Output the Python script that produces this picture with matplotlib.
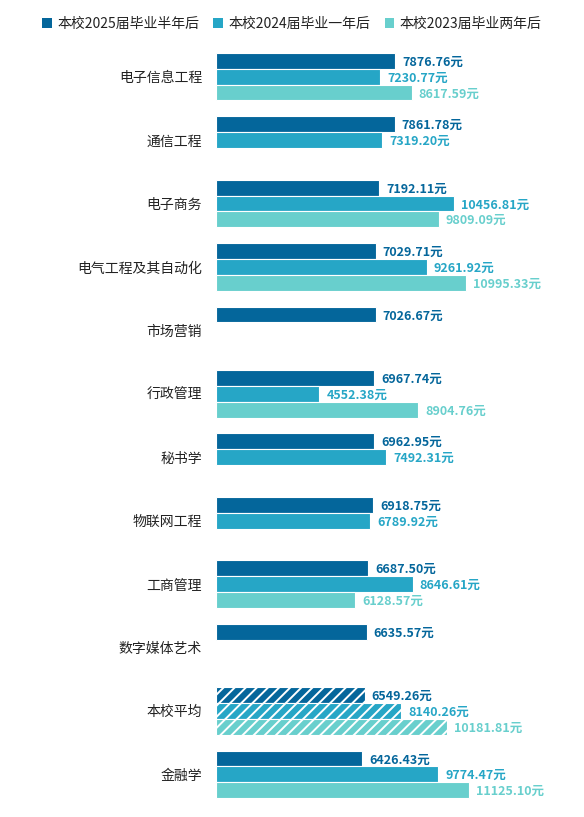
import numpy as np
import matplotlib
matplotlib.use('Agg')
import matplotlib.pyplot as plt
from matplotlib.patches import Patch

plt.rcParams['font.family'] = ['Noto Sans CJK SC', 'DejaVu Sans']
plt.rcParams['hatch.linewidth'] = 1.4

categories = ['电子信息工程', '通信工程', '电子商务', '电气工程及其自动化', '市场营销',
              '行政管理', '秘书学', '物联网工程', '工商管理', '数字媒体艺术',
              '本校平均', '金融学']
series_names = ['本校2025届毕业半年后', '本校2024届毕业一年后', '本校2023届毕业两年后']
salary_2025 = [7876.76, 7861.78, 7192.11, 7029.71, 7026.67, 6967.74, 6962.95,
               6918.75, 6687.50, 6635.57, 6549.26, 6426.43]
salary_2024 = [7230.77, 7319.20, 10456.81, 9261.92, None, 4552.38, 7492.31,
               6789.92, 8646.61, None, 8140.26, 9774.47]
salary_2023 = [8617.59, None, 9809.09, 10995.33, None, 8904.76, None,
               None, 6128.57, None, 10181.81, 11125.10]
highlight = '本校平均'

colors = ['#04669b', '#26a6c6', '#68cfcd']
series = [salary_2025, salary_2024, salary_2023]

fig = plt.figure(figsize=(5.84, 8.17), dpi=100)
ax = fig.add_axes([216 / 584, 11 / 817, 368 / 584, 761 / 817])

bar_h = 0.25
y = np.arange(len(categories))
for k, (vals, col) in enumerate(zip(series, colors)):
    offset = (k - 1) * bar_h
    for i, v in enumerate(vals):
        if v is None:
            continue
        hatched = categories[i] == highlight
        ax.barh(y[i] + offset, v, height=bar_h, color=col,
                edgecolor='white', linewidth=0.8,
                hatch='///' if hatched else None)
        ax.annotate(f'{v:.2f}元', xy=(v, y[i] + offset), xytext=(5, -1),
                    textcoords='offset points', ha='left', va='center',
                    fontsize=9, fontweight='bold', color=col)

ax.set_xlim(0, 16190)
ax.set_ylim(len(categories) - 0.5, -0.5)
ax.set_yticks(y)
ax.set_yticklabels(categories, fontsize=10, color='#222222')
ax.tick_params(axis='y', length=0, pad=10)
ax.set_xticks([])
for s in ax.spines.values():
    s.set_visible(False)

handles = [Patch(facecolor=c, edgecolor='none') for c in colors]
fig.legend(handles, series_names, loc='upper center', bbox_to_anchor=(0.5, 0.995),
           ncol=3, frameon=False, fontsize=10, handlelength=0.7, handleheight=0.7,
           handletextpad=0.4, columnspacing=1.0, labelcolor='#222222')

plt.savefig('out.png', dpi=100)
plt.close()
